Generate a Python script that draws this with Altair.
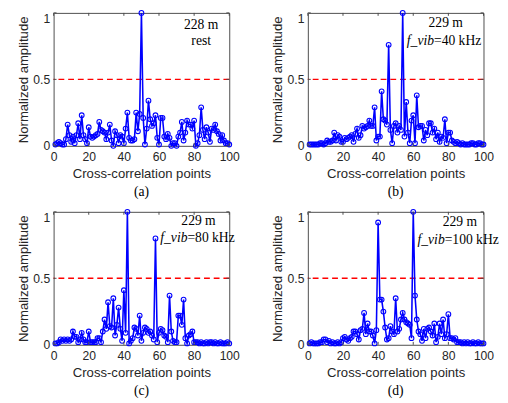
import altair as alt
import pandas as pd

# ---------------- data ----------------
x_points = list(range(1, 101))

amp_a = [0.01, 0.02, 0.03, 0.02, 0.01, 0.01, 0.05, 0.16, 0.08, 0.03,
         0.07, 0.02, 0.08, 0.17, 0.05, 0.23, 0.08, 0.05, 0.02, 0.14,
         0.07, 0.06, 0.07, 0.08, 0.09, 0.18, 0.12, 0.11, 0.10, 0.05,
         0.10, 0.16, 0.04, 0.00, 0.11, 0.08, 0.02, 0.08, 0.07, 0.02,
         0.13, 0.25, 0.06, 0.04, 0.04, 0.05, 0.25, 0.11, 0.24, 1.00,
         0.21, 0.01, 0.13, 0.34, 0.20, 0.15, 0.17, 0.23, 0.06, 0.01,
         0.21, 0.21, 0.07, 0.05, 0.09, 0.06, 0.00, 0.02, 0.02, 0.00,
         0.07, 0.10, 0.18, 0.04, 0.10, 0.19, 0.16, 0.16, 0.13, 0.19,
         0.00, 0.02, 0.08, 0.29, 0.12, 0.05, 0.14, 0.10, 0.03, 0.13,
         0.12, 0.16, 0.11, 0.09, 0.04, 0.08, 0.04, 0.02, 0.02, 0.01]

amp_b = [0.01, 0.01, 0.01, 0.01, 0.01, 0.01, 0.02, 0.02, 0.01, 0.02,
         0.04, 0.03, 0.03, 0.04, 0.10, 0.04, 0.08, 0.07, 0.03, 0.03,
         0.06, 0.05, 0.06, 0.07, 0.08, 0.03, 0.09, 0.13, 0.06, 0.08,
         0.15, 0.13, 0.14, 0.15, 0.19, 0.15, 0.15, 0.29, 0.04, 0.07,
         0.07, 0.41, 0.20, 0.19, 0.16, 0.76, 0.12, 0.02, 0.15, 0.17,
         0.10, 0.15, 0.12, 1.00, 0.07, 0.33, 0.10, 0.02, 0.19, 0.23,
         0.02, 0.38, 0.14, 0.15, 0.15, 0.04, 0.12, 0.08, 0.17, 0.17,
         0.10, 0.13, 0.05, 0.10, 0.03, 0.07, 0.06, 0.20, 0.02, 0.10,
         0.10, 0.04, 0.03, 0.02, 0.03, 0.02, 0.01, 0.02, 0.01, 0.01,
         0.01, 0.01, 0.02, 0.02, 0.01, 0.01, 0.02, 0.02, 0.01, 0.01]

amp_c = [0.01, 0.01, 0.02, 0.04, 0.03, 0.04, 0.03, 0.04, 0.03, 0.04,
         0.10, 0.06, 0.06, 0.02, 0.04, 0.09, 0.04, 0.02, 0.02, 0.10,
         0.02, 0.02, 0.02, 0.02, 0.05, 0.05, 0.02, 0.10, 0.19, 0.12,
         0.32, 0.14, 0.13, 0.35, 0.07, 0.15, 0.28, 0.12, 0.03, 0.41,
         0.09, 1.00, 0.01, 0.03, 0.05, 0.13, 0.12, 0.07, 0.22, 0.03,
         0.09, 0.13, 0.12, 0.09, 0.10, 0.07, 0.04, 0.80, 0.02, 0.09,
         0.12, 0.11, 0.07, 0.06, 0.02, 0.37, 0.10, 0.03, 0.02, 0.02,
         0.22, 0.22, 0.15, 0.34, 0.05, 0.01, 0.07, 0.08, 0.10, 0.02,
         0.02, 0.02, 0.01, 0.02, 0.01, 0.01, 0.02, 0.01, 0.02, 0.02,
         0.01, 0.02, 0.01, 0.01, 0.02, 0.01, 0.01, 0.01, 0.02, 0.01]

amp_d = [0.01, 0.02, 0.01, 0.01, 0.01, 0.01, 0.02, 0.02, 0.04, 0.04,
         0.02, 0.03, 0.01, 0.02, 0.01, 0.01, 0.02, 0.01, 0.02, 0.05,
         0.06, 0.04, 0.03, 0.05, 0.06, 0.10, 0.10, 0.08, 0.04, 0.11,
         0.12, 0.24, 0.08, 0.16, 0.10, 0.10, 0.07, 0.01, 0.11, 0.92,
         0.34, 0.34, 0.25, 0.13, 0.04, 0.05, 0.14, 0.10, 0.08, 0.35,
         0.10, 0.12, 0.19, 0.24, 0.19, 0.17, 0.16, 0.15, 0.05, 1.00,
         0.37, 0.19, 0.10, 0.08, 0.03, 0.12, 0.05, 0.12, 0.13, 0.10,
         0.07, 0.16, 0.02, 0.06, 0.16, 0.08, 0.19, 0.05, 0.08, 0.23,
         0.05, 0.05, 0.04, 0.05, 0.02, 0.02, 0.02, 0.01, 0.02, 0.01,
         0.02, 0.01, 0.01, 0.02, 0.01, 0.01, 0.02, 0.01, 0.01, 0.01]

panel_labels = ["(a)", "(b)", "(c)", "(d)"]
dist_labels = ["228 m", "229 m", "229 m", "229 m"]
cond_italic = ["", "f_vib", "f_vib", "f_vib"]
cond_plain = ["rest", "=40 kHz", "=80 kHz", "=100 kHz"]
x_ticks = [0, 20, 40, 60, 80, 100]
y_ticks = [0, 0.5, 1]
threshold = [0.5]

# ---------------- layout / style ----------------
W, H = 181, 137
FRAME = "#4a4a4a"
TXT = "#262626"
SERIF = "Liberation Serif"
SANS = "Liberation Sans"
ANNO_SIZE = 14

# annotation anchor positions (data coords): (dist_x, dist_y, cond_x, cond_y)
anno_pos = [
    (84.0, 0.905, 84.0, 0.79),
    (78.5, 0.92, 71.8, 0.79),
    (82.5, 0.93, 76.2, 0.80),
    (86.5, 0.926, 77.9, 0.79),
]

xs = alt.Scale(domain=[0, 100], nice=False, zero=False)
ys = alt.Scale(domain=[0, 1], nice=False)
x_axis = alt.Axis(values=x_ticks, title="Cross-correlation points",
                  labelPadding=5, titlePadding=4, labelFlush=False)
y_axis = alt.Axis(values=y_ticks, title="Normalized amplitude",
                  format="~g", labelPadding=4, titlePadding=3, labelFlush=False,
                  labelBaseline={"condition": {"test": "datum.value >= 1",
                                               "value": "top"},
                                 "value": "middle"})


def X(f):
    return alt.X(f, scale=xs, axis=x_axis)


def Y(f):
    return alt.Y(f, scale=ys, axis=y_axis)


def panel(vals, i):
    df = pd.DataFrame({"x": x_points, "y": vals})

    thr = alt.Chart(pd.DataFrame({"y": threshold})).mark_rule(
        color="#ff0000", strokeDash=[6, 4], strokeWidth=1.5
    ).encode(y=Y("y:Q"))

    line = alt.Chart(df).mark_line(
        color="#0000ff", strokeWidth=1.6,
        point=alt.OverlayMarkDef(filled=False, shape="circle", size=24,
                                 color="#0000ff", strokeWidth=1.1)
    ).encode(x=X("x:Q"), y=Y("y:Q"))

    tx = pd.DataFrame({"x": x_ticks})
    ty = pd.DataFrame({"y": y_ticks})
    bt = alt.Chart(tx).mark_rule(color=FRAME, strokeWidth=1).encode(
        x=X("x:Q"), y=alt.value(H), y2=alt.value(H - 3))
    tt = alt.Chart(tx).mark_rule(color=FRAME, strokeWidth=1).encode(
        x=X("x:Q"), y=alt.value(0), y2=alt.value(3))
    lt = alt.Chart(ty).mark_rule(color=FRAME, strokeWidth=1).encode(
        y=Y("y:Q"), x=alt.value(0), x2=alt.value(3))
    rt = alt.Chart(ty).mark_rule(color=FRAME, strokeWidth=1).encode(
        y=Y("y:Q"), x=alt.value(W), x2=alt.value(W - 3))

    dx, dy, cx, cy = anno_pos[i]
    d_df = pd.DataFrame({"x": [dx], "y": [dy], "s": [dist_labels[i]]})
    dist = alt.Chart(d_df).mark_text(
        font=SERIF, fontSize=ANNO_SIZE, color="black", align="center",
        baseline="middle"
    ).encode(x=X("x:Q"), y=Y("y:Q"), text="s:N")

    layers = [thr, line, bt, tt, lt, rt, dist]
    if cond_italic[i]:
        it_df = pd.DataFrame({"x": [cx], "y": [cy], "s": [cond_italic[i]]})
        layers.append(alt.Chart(it_df).mark_text(
            font=SERIF, fontSize=ANNO_SIZE, fontStyle="italic", color="black",
            align="right", baseline="middle"
        ).encode(x=X("x:Q"), y=Y("y:Q"), text="s:N"))
        align = "left"
    else:
        align = "center"
    pl_df = pd.DataFrame({"x": [cx], "y": [cy], "s": [cond_plain[i]]})
    layers.append(alt.Chart(pl_df).mark_text(
        font=SERIF, fontSize=ANNO_SIZE, color="black", align=align,
        baseline="middle"
    ).encode(x=X("x:Q"), y=Y("y:Q"), text="s:N"))

    return alt.layer(*layers).properties(
        width=W, height=H,
        title=alt.TitleParams(panel_labels[i], orient="bottom", font=SERIF,
                              fontSize=14, fontWeight="normal", color="black",
                              offset=6),
    )


series = [amp_a, amp_b, amp_c, amp_d]
chart = alt.concat(
    *[panel(series[i], i) for i in range(4)],
    columns=2,
    spacing={"row": 6, "column": 31},
).properties(
    padding={"left": 8, "top": -7, "right": 0, "bottom": 0}
).configure_view(
    stroke=FRAME, strokeWidth=1
).configure_axis(
    domain=False, grid=False, ticks=False,
    labelFont=SANS, labelFontSize=12.5, labelColor=TXT,
    titleFont=SANS, titleFontSize=13.5, titleFontWeight="normal", titleColor=TXT,
)

chart.save("out.html", embed_options={"renderer": "svg", "actions": False})
